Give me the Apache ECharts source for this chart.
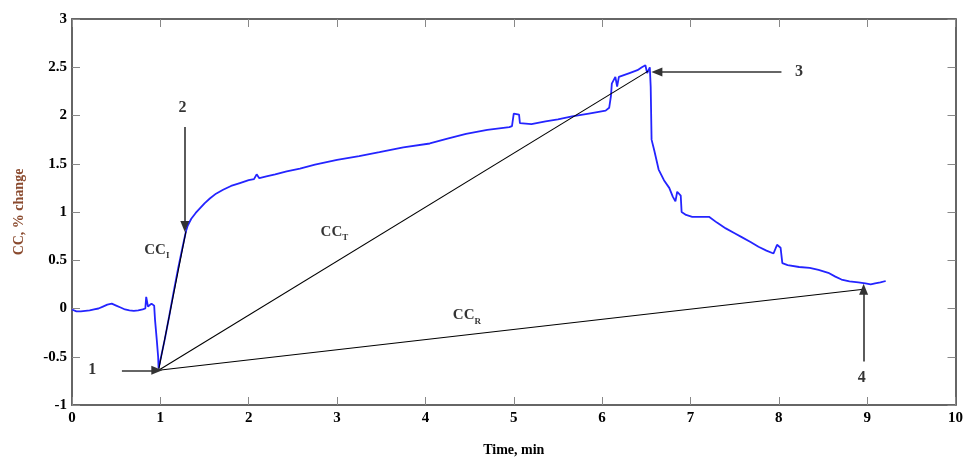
<!DOCTYPE html>
<html>
<head>
<meta charset="utf-8">
<script src="https://cdn.jsdelivr.net/npm/echarts@6/dist/echarts.min.js"></script>
<style>
  html, body { margin: 0; padding: 0; background: #fff; }
  #chart { width: 966px; height: 462px; }
</style>
</head>
<body>
<div id="chart"></div>
<script>
var timeMin = [0, 0.05, 0.1, 0.15, 0.2, 0.25, 0.3, 0.35, 0.4, 0.45, 0.5, 0.55, 0.6, 0.65, 0.7, 0.75, 0.8, 0.83, 0.84, 0.85,
  0.86, 0.88, 0.9, 0.92, 0.93, 0.94, 0.96, 0.975, 0.98, 0.99, 1.05, 1.1, 1.15, 1.2, 1.25, 1.29, 1.31, 1.35, 1.4, 1.45,
  1.5, 1.56, 1.63, 1.71, 1.8, 1.9, 2.0, 2.06, 2.09, 2.12, 2.2, 2.3, 2.43, 2.58, 2.75, 3.0, 3.25, 3.48, 3.75, 4.05,
  4.25, 4.46, 4.7, 4.95, 4.98, 5.0, 5.06, 5.07, 5.08, 5.2, 5.36, 5.5, 5.66, 5.85, 6.04, 6.08, 6.1, 6.11, 6.15, 6.17,
  6.19, 6.31, 6.4, 6.45, 6.49, 6.51, 6.54, 6.55, 6.56, 6.59, 6.64, 6.7, 6.76, 6.8, 6.83, 6.85, 6.89, 6.9, 6.95, 7.02,
  7.1, 7.21, 7.3, 7.4, 7.5, 7.58, 7.68, 7.77, 7.86, 7.94, 7.98, 8.02, 8.04, 8.1, 8.23, 8.35, 8.45, 8.56, 8.64, 8.71,
  8.8, 8.9, 8.98, 9.04, 9.09, 9.15, 9.21];
var ccChange = [-0.01, -0.03, -0.03, -0.025, -0.02, -0.01, 0.0, 0.02, 0.04, 0.05, 0.03, 0.01, -0.01, -0.02, -0.025, -0.02, -0.01, 0.0, 0.12, 0.13,
  0.02, 0.01, 0.05, 0.06, 0.03, -0.12, -0.33, -0.5, -0.62, -0.6, -0.32, -0.08, 0.17, 0.41, 0.63, 0.8, 0.86, 0.93, 0.99, 1.04,
  1.09, 1.14, 1.19, 1.23, 1.27, 1.3, 1.33, 1.34, 1.39, 1.35, 1.37, 1.39, 1.42, 1.45, 1.49, 1.54, 1.58, 1.62, 1.67, 1.71,
  1.76, 1.81, 1.85, 1.88, 1.89, 2.02, 2.01, 1.92, 1.9, 1.91, 1.94, 1.96, 1.99, 2.02, 2.05, 2.08, 2.2, 2.33, 2.4, 2.3,
  2.4, 2.44, 2.47, 2.5, 2.52, 2.44, 2.5, 2.3, 1.75, 1.64, 1.44, 1.33, 1.25, 1.16, 1.11, 1.21, 1.17, 1.0, 0.97, 0.95,
  0.95, 0.95, 0.89, 0.83, 0.78, 0.74, 0.69, 0.64, 0.6, 0.57, 0.66, 0.63, 0.47, 0.45, 0.43, 0.42, 0.4, 0.37, 0.33, 0.3,
  0.28, 0.27, 0.26, 0.25, 0.26, 0.27, 0.285];

// reference points 1..4
var pt1 = [0.98, -0.64];
var pt2 = [1.29, 0.80];
var pt3 = [6.52, 2.46];
var pt4 = [8.96, 0.20];

// arrows: [from, to]
var arrows = [
  [[0.565, -0.64], [0.96, -0.64]],
  [[1.277, 1.88], [1.277, 0.85]],
  [[8.03, 2.45], [6.62, 2.45]],
  [[8.96, -0.55], [8.96, 0.20]]
];
// number labels and CC labels
var numLabels = [['1', 0.23, -0.64], ['2', 1.25, 2.08], ['3', 8.23, 2.45], ['4', 8.94, -0.72]];
var ccLabels = [['I', 0.96, 0.59], ['T', 2.97, 0.78], ['R', 4.47, -0.085]];

var xTicks = [0, 10, 1];
var yTicks = [-1, 3, 0.5];

var serif = 'Liberation Serif';
var chart = echarts.init(document.getElementById('chart'));

var traceData = timeMin.map(function (t, i) { return [t, ccChange[i]]; });

function seg(a, b) { return [{ coord: a }, { coord: b }]; }

var boxLine = { onZero: false, lineStyle: { color: '#666', width: 2 } };
var tick = { inside: true, length: 8, lineStyle: { color: '#888' } };

var option = {
  animation: false,
  grid: { left: 72, right: 9, top: 19, bottom: 57 },
  xAxis: [{
    type: 'value', min: xTicks[0], max: xTicks[1], interval: xTicks[2],
    name: 'Time, min', nameLocation: 'middle', nameGap: 38,
    nameTextStyle: { fontFamily: serif, fontWeight: 'bold', fontSize: 14, color: '#000' },
    axisLine: boxLine, axisTick: tick,
    axisLabel: { margin: 6, fontFamily: serif, fontWeight: 'bold', fontSize: 15, color: '#000' },
    splitLine: { show: false }
  }, {
    type: 'value', position: 'top', min: xTicks[0], max: xTicks[1], interval: xTicks[2],
    axisLine: boxLine, axisTick: tick,
    axisLabel: { show: false }, splitLine: { show: false }
  }],
  yAxis: [{
    type: 'value', min: yTicks[0], max: yTicks[1], interval: yTicks[2],
    name: 'CC, % change', nameLocation: 'middle', nameGap: 46,
    nameTextStyle: { fontFamily: serif, fontWeight: 'bold', fontSize: 14, color: '#8a4a2e' },
    axisLine: boxLine, axisTick: tick,
    axisLabel: { margin: 5, fontFamily: serif, fontWeight: 'bold', fontSize: 15, color: '#000' },
    splitLine: { show: false }
  }, {
    type: 'value', position: 'right', min: yTicks[0], max: yTicks[1], interval: yTicks[2],
    axisLine: boxLine, axisTick: tick,
    axisLabel: { show: false }, splitLine: { show: false }
  }],
  series: [{
    type: 'line', data: traceData, showSymbol: false,
    lineStyle: { color: '#2424ff', width: 1.8 }
  }, {
    type: 'line', data: [], silent: true,
    markLine: {
      silent: true, symbol: ['none', 'none'],
      label: { show: false },
      lineStyle: { color: '#000', width: 1.1, type: 'solid' },
      data: [seg(pt1, pt2), seg(pt1, pt3), seg(pt1, pt4)]
    }
  }, {
    type: 'line', data: [], silent: true,
    markLine: {
      silent: true, symbol: ['none', 'triangle'], symbolSize: [9, 11],
      label: { show: false },
      lineStyle: { color: '#333', width: 1.6, type: 'solid' },
      itemStyle: { color: '#000' },
      data: arrows.map(function (a) { return seg(a[0], a[1]); })
    }
  }, {
    type: 'scatter', symbolSize: 0, silent: true,
    data: numLabels.map(function (d) { return { value: [d[1], d[2]], name: d[0] }; }),
    label: {
      show: true, position: 'inside', formatter: '{b}',
      fontFamily: serif, fontWeight: 'bold', fontSize: 16, color: '#000'
    }
  }, {
    type: 'scatter', symbolSize: 0, silent: true,
    data: ccLabels.map(function (d) { return { value: [d[1], d[2]], name: d[0] }; }),
    label: {
      show: true, position: 'inside', formatter: '{m|CC}{s|{b}}',
      rich: {
        m: { fontFamily: serif, fontWeight: 'bold', fontSize: 15, color: '#000', verticalAlign: 'top' },
        s: { fontFamily: serif, fontWeight: 'bold', fontSize: 9, color: '#000', padding: [9, 0, 0, 0] }
      }
    }
  }]
};
chart.setOption(option);
</script>
</body>
</html>
